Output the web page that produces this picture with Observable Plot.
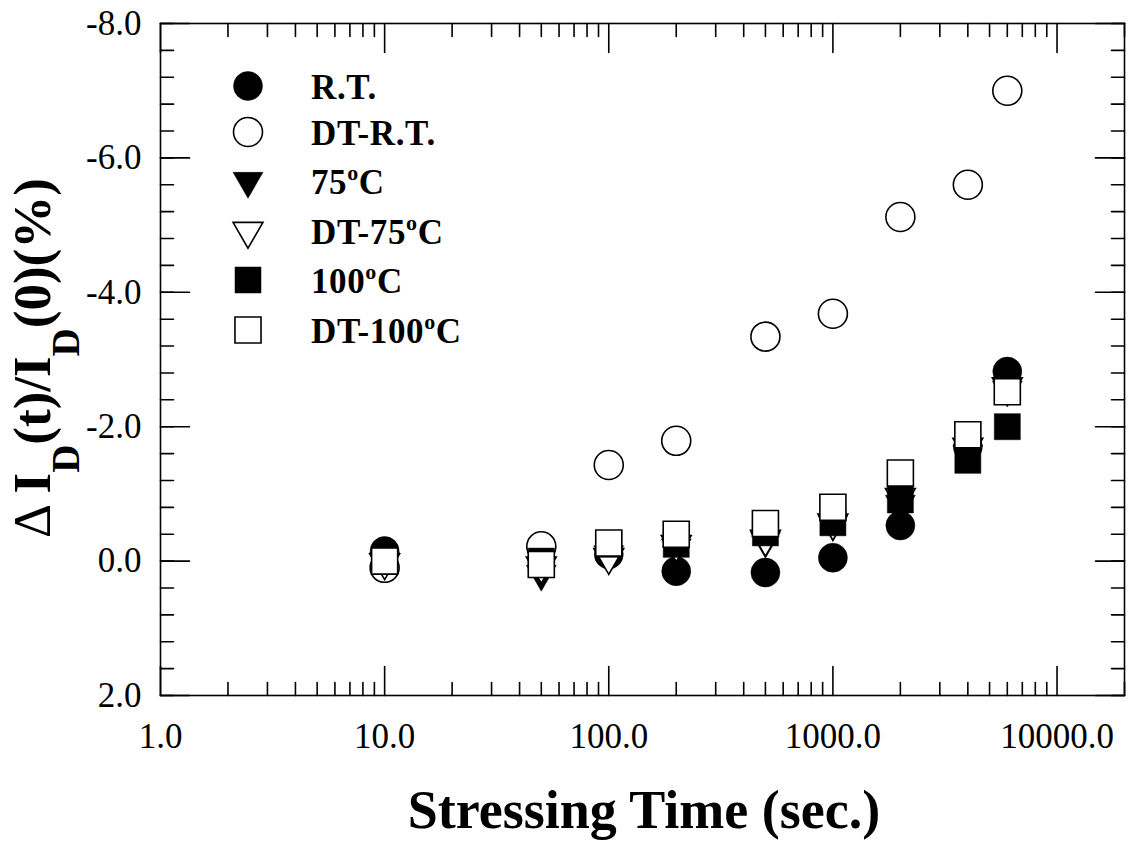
<!DOCTYPE html>
<html>
<head>
<meta charset="utf-8">
<script src="https://cdn.jsdelivr.net/npm/d3@7"></script>
<script src="https://cdn.jsdelivr.net/npm/@observablehq/plot@0.6"></script>
<style>
  body { margin: 0; background: #fff; }
  #wrap { position: relative; width: 1130px; height: 841px; background: #fff; }
  #wrap > svg { position: absolute; left: 0; top: 0; }
  #over { position: absolute; left: 0; top: 0; pointer-events: none; }
</style>
</head>
<body>
<div id="wrap"></div>
<script>
// ---- data ----
const times  = [10, 50, 100, 200, 500, 1000, 2000, 4000, 6000];
const rt     = [-0.15, -0.2, -0.1, 0.15, 0.17, -0.05, -0.53, -1.7, -2.82];
const dtRt   = [0.1, -0.22, -1.43, -1.79, -3.34, -3.68, -5.12, -5.6, -7.0];
const t75    = [0.0, 0.19, -0.1, -0.2, -0.3, -0.55, -0.85, -1.6, -2.55];
const dt75   = [0.02, 0.07, -0.06, -0.25, -0.33, -0.57, -0.95, -1.7, -2.6];
const t100   = [0.0, 0.0, -0.25, -0.25, -0.42, -0.57, -0.91, -1.5, -2.0];
const dt100  = [0.0, 0.05, -0.27, -0.4, -0.56, -0.8, -1.31, -1.88, -2.52];

const seriesNames = ["R.T.", "DT-R.T.", "75°C", "DT-75°C", "100°C", "DT-100°C"];
const xTickValues = [1, 10, 100, 1000, 10000];
const yTickValues = [-8, -6, -4, -2, 0, 2];

// ---- styles per series ----
const styles = [
  {values: rt,    symbol: "circle",   r: 14.5, fill: "black", rotate: 0},
  {values: dtRt,  symbol: "circle",   r: 14.5, fill: "white", rotate: 0},
  {values: t75,   symbol: "triangle", r: 11.1, fill: "black", rotate: 180},
  {values: dt75,  symbol: "triangle", r: 11.1, fill: "white", rotate: 180},
  {values: t100,  symbol: "square",   r: 14.7, fill: "black", rotate: 0},
  {values: dt100, symbol: "square",   r: 14.7, fill: "white", rotate: 0}
];

const xMinor = [];
for (const k of [1, 10, 100, 1000, 10000]) for (let m = 2; m <= 9; m++) xMinor.push(m * k);
const yMinor = d3.range(0, 26).map(i => +(-8 + i * 0.4).toFixed(1));

const tickShape = {draw(context, l) { context.moveTo(0, 0); context.lineTo(0, -l); }};
const MAJ = 29, MIN = 13, SW = 1.6;

function ticks(values, anchor, len) {
  const cfg = {
    bottom: {ch: "x", rotate: 0},
    top:    {ch: "x", rotate: 180},
    left:   {ch: "y", rotate: 90},
    right:  {ch: "y", rotate: -90}
  }[anchor];
  return Plot.vector(values, {
    [cfg.ch]: d => d, frameAnchor: anchor, length: len, rotate: cfg.rotate,
    anchor: "start", shape: tickShape, stroke: "black", strokeWidth: SW
  });
}

const dotMarks = styles.map((s, i) => Plot.dot(times.map((t, j) => ({t, v: s.values[j], series: seriesNames[i]})), {
  x: "t", y: "v", symbol: () => s.symbol, r: s.r, fill: s.fill,
  stroke: "black", strokeWidth: s.fill === "white" ? SW : 0.5, rotate: s.rotate
}));

const chart = Plot.plot({
  width: 1130, height: 841,
  marginLeft: 160, marginRight: 6, marginTop: 23, marginBottom: 146,
  x: {type: "log", domain: [1, 20000]},
  y: {domain: [2, -8]},
  symbol: {type: "identity"},
  style: {fontFamily: "'Liberation Serif', 'Times New Roman', serif", background: "white", color: "black", overflow: "visible"},
  marks: [
    ticks(xTickValues, "bottom", MAJ), ticks(xTickValues, "top", MAJ),
    ticks(xMinor, "bottom", MIN), ticks(xMinor, "top", MIN),
    ticks(yTickValues, "left", MAJ), ticks(yTickValues, "right", MAJ),
    ticks(yMinor, "left", MIN), ticks(yMinor, "right", MIN),
    Plot.axisX({ticks: xTickValues, tickSize: 0, tickPadding: 28, tickFormat: d => d.toFixed(1), fontSize: 35, label: null}),
    Plot.axisY({ticks: yTickValues, tickSize: 0, tickPadding: 19, tickFormat: d => d.toFixed(1), fontSize: 35, label: null}),
    ...dotMarks,
    Plot.frame({stroke: "black", strokeWidth: SW})
  ]
});
document.getElementById("wrap").appendChild(chart);

// ---- overlay: axis titles and legend ----
const over = d3.select("#wrap").append("svg").attr("id", "over")
  .attr("width", 1130).attr("height", 841)
  .style("font-family", "'Liberation Serif', 'Times New Roman', serif");

over.append("text").attr("x", 644).attr("y", 828).attr("text-anchor", "middle")
  .attr("font-size", 54).attr("font-weight", "bold").text("Stressing Time (sec.)");

const yt = over.append("text").attr("transform", "translate(50,358) rotate(-90)")
  .attr("text-anchor", "middle").attr("font-size", 53).attr("font-weight", "bold");
yt.append("tspan").attr("font-weight", "normal").text("Δ ");
yt.append("tspan").text("I");
yt.append("tspan").attr("font-size", 39).attr("dy", 29).text("D");
yt.append("tspan").attr("dy", -29).text("(t)/I");
yt.append("tspan").attr("font-size", 39).attr("dy", 29).text("D");
yt.append("tspan").attr("dy", -29).text("(0)(%)");

const legendY = [86, 132, 181, 231, 280, 330];
const symbolMap = {circle: d3.symbolCircle, triangle: d3.symbolTriangle, square: d3.symbolSquare};
styles.forEach((s, i) => {
  over.append("path")
    .attr("d", d3.symbol(symbolMap[s.symbol], Math.PI * s.r * s.r)())
    .attr("transform", `translate(248,${legendY[i]}) rotate(${s.rotate})`)
    .attr("fill", s.fill).attr("stroke", "black").attr("stroke-width", s.fill === "white" ? SW : 0.5);
  const txt = over.append("text").attr("x", 311).attr("y", legendY[i] + 13)
    .attr("font-size", 35).attr("font-weight", "bold").attr("letter-spacing", 0.6);
  const name = seriesNames[i];
  const k = name.indexOf("°");
  if (k < 0) txt.text(name);
  else {
    txt.append("tspan").text(name.slice(0, k));
    txt.append("tspan").attr("font-size", 22).attr("dy", -14).text("o");
    txt.append("tspan").attr("dy", 14).text(name.slice(k + 1));
  }
});
</script>
</body>
</html>
